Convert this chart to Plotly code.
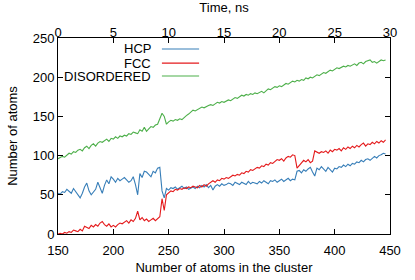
import plotly.graph_objects as go

# Number of atoms in the cluster (every 2 atoms)
n_atoms = list(range(150, 447, 2))

hcp = [52, 51, 54, 53, 57, 55, 52, 58, 54, 50,
       46, 52, 60, 65, 55, 50, 53, 57, 66, 58,
       52, 62, 69, 64, 73, 70, 66, 71, 68, 70,
       72, 69, 66, 68, 73, 63, 50, 77, 72, 80,
       79, 76, 73, 80, 78, 84, 85, 55, 46, 58,
       56, 59, 58, 60, 57, 59, 61, 58, 60, 57,
       59, 60, 58, 61, 59, 62, 60, 63, 59, 62,
       56, 61, 63, 61, 64, 62, 63, 65, 64, 62,
       66, 64, 63, 66, 65, 63, 67, 64, 66, 65,
       64, 67, 65, 68, 66, 64, 68, 67, 69, 66,
       68, 70, 67, 69, 71, 68, 70, 69, 80, 81,
       78, 82, 80, 83, 85, 79, 74, 84, 82, 86,
       83, 80, 85, 82, 79, 84, 83, 86, 85, 88,
       86, 89, 87, 90, 89, 92, 91, 94, 92, 95,
       96, 94, 97, 99, 97, 100, 101, 103, 102]

fcc = [0, 1, 0, 2, 1, 3, 2, 5, 4, 3,
       6, 4, 10, 8, 7, 11, 9, 12, 10, 14,
       16, 12, 10, 13, 9, 11, 9, 12, 14, 13,
       15, 17, 14, 18, 16, 20, 29, 18, 21, 17,
       19, 16, 18, 20, 17, 19, 22, 45, 30, 50,
       53, 55, 54, 57, 56, 58, 57, 59, 58, 60,
       59, 61, 60, 59, 62, 60, 63, 61, 64, 66,
       68, 66, 69, 68, 71, 70, 72, 71, 73, 75,
       74, 76, 75, 78, 77, 80, 79, 82, 81, 83,
       85, 84, 87, 86, 89, 88, 91, 90, 93, 95,
       94, 96, 93, 97, 99, 98, 101, 100, 84, 87,
       90, 94, 92, 95, 91, 93, 106, 104, 103, 105,
       104, 106, 103, 107, 105, 108, 107, 109, 106, 110,
       108, 111, 109, 112, 110, 113, 111, 114, 116, 112,
       115, 114, 117, 115, 118, 116, 119, 117, 120]

disordered = [96, 97, 99, 98, 101, 103, 102, 105, 104, 107,
              108, 106, 110, 112, 109, 113, 115, 112, 116, 118,
              117, 119, 121, 118, 122, 121, 124, 122, 125, 124,
              126, 125, 128, 127, 130, 129, 128, 133, 131, 136,
              131, 134, 137, 136, 139, 140, 147, 154, 150, 140,
              143, 145, 144, 146, 145, 147, 146, 149, 151, 153,
              156, 158, 157, 159, 160, 162, 161, 163, 164, 165,
              164, 166, 168, 167, 169, 168, 170, 171, 170, 172,
              174, 173, 175, 177, 176, 178, 177, 179, 178, 180,
              179, 181, 182, 180, 183, 185, 184, 186, 188, 187,
              189, 188, 190, 192, 191, 193, 195, 194, 196, 195,
              197, 196, 199, 198, 200, 199, 201, 203, 202, 204,
              206, 205, 207, 209, 208, 210, 212, 211, 213, 214,
              213, 215, 214, 216, 217, 215, 218, 219, 217, 220,
              221, 222, 219, 220, 218, 220, 222, 221, 222]

series_names = ["HCP", "FCC", "DISORDERED"]
colors = ["#377eb8", "#e41a1c", "#4daf4a"]
x_ticks = [150, 200, 250, 300, 350, 400, 450]
time_ticks = [0, 5, 10, 15, 20, 25, 30]
y_ticks = [0, 50, 100, 150, 200, 250]

FONT = "Liberation Sans, Arial, sans-serif"
FS = 13

fig = go.Figure()
for name, vals, c in zip(series_names, [hcp, fcc, disordered], colors):
    fig.add_trace(go.Scatter(x=n_atoms, y=vals, mode="lines", name=name,
                             line=dict(color=c, width=1.1), showlegend=False))

axis_common = dict(showline=True, linecolor="black", linewidth=1, ticks="inside",
                   ticklen=5, tickcolor="black", showgrid=False, zeroline=False,
                   automargin=False,
                   tickfont=dict(family=FONT, size=FS, color="black"))

fig.update_layout(
    width=415, height=280,
    margin=dict(l=58, r=25, t=38, b=46),
    paper_bgcolor="white", plot_bgcolor="white",
    font=dict(family=FONT, size=FS, color="black"),
    xaxis=dict(range=[150, 450], tickvals=x_ticks, mirror=True, ticklabelstandoff=4,
               title=dict(text="Number of atoms in the cluster", standoff=6,
                          font=dict(family=FONT, size=FS)),
               **axis_common),
    xaxis2=dict(range=[0, 30], tickvals=time_ticks, overlaying="x", side="top",
                ticklabelstandoff=-5,
                title=dict(text="Time, ns", standoff=12, font=dict(family=FONT, size=FS)),
                **axis_common),
    yaxis=dict(range=[0, 250], tickvals=y_ticks, mirror="ticks",
               title=dict(text="Number of atoms", standoff=12,
                          font=dict(family=FONT, size=FS)),
               **axis_common),
)
# invisible trace to activate the top time axis
fig.add_trace(go.Scatter(x=[0, 30], y=[None, None], xaxis="x2", yaxis="y",
                         mode="lines", showlegend=False, hoverinfo="skip"))

# manual legend: text right-aligned, line sample to its right
leg_y = [0.944, 0.872, 0.806]
for name, c, yy in zip(series_names, colors, leg_y):
    fig.add_annotation(x=0.286, y=yy, xref="paper", yref="paper", text=name,
                       showarrow=False, xanchor="right", yanchor="middle",
                       font=dict(family=FONT, size=FS, color="black"))
    fig.add_shape(type="line", xref="paper", yref="paper", x0=0.313, x1=0.425,
                  y0=yy, y1=yy, line=dict(color=c, width=1.1))

fig.write_html("out.html", config={"displayModeBar": False},
               post_script="document.body.style.margin='0';")
